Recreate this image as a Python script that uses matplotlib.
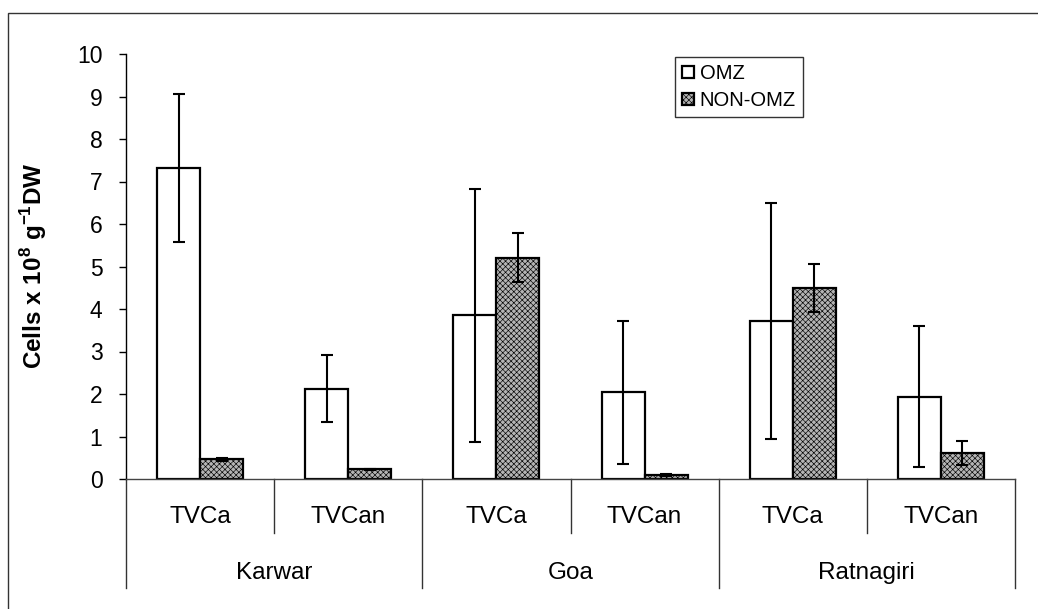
import matplotlib
matplotlib.use("Agg")
import matplotlib.pyplot as plt
import matplotlib.transforms as mtransforms
from matplotlib.patches import Rectangle
import numpy as np

plt.rcParams['font.family'] = ['Liberation Sans', 'DejaVu Sans']
plt.rcParams['mathtext.fontset'] = 'custom'
plt.rcParams['mathtext.rm'] = 'Liberation Sans'
plt.rcParams['mathtext.bf'] = 'Liberation Sans:bold'
plt.rcParams['hatch.linewidth'] = 0.45

# Data: cell counts (x 10^8 per g dry weight) with standard deviations
sites = ["Karwar", "Goa", "Ratnagiri"]
groups = ["TVCa", "TVCan"]
omz_mean = [7.32, 2.12, 3.85, 2.04, 3.72, 1.94]
omz_err = [1.74, 0.79, 2.97, 1.68, 2.78, 1.65]
non_omz_mean = [0.46, 0.23, 5.21, 0.09, 4.49, 0.61]
non_omz_err = [0.03, 0.01, 0.57, 0.03, 0.56, 0.29]
series_names = ["OMZ", "NON-OMZ"]
y_ticks = list(range(0, 11))

W, H = 1038, 609
fig = plt.figure(figsize=(W / 100, H / 100), dpi=100)
ax = fig.add_axes([126 / W, 1 - 479 / H, (1015 - 126) / W, (479 - 54) / H])

x = np.arange(len(omz_mean))
bw = 0.29
ekw = dict(ecolor="black", elinewidth=1.5, capsize=4.5, capthick=1.5)

ax.bar(x - bw / 2, omz_mean, bw, color="white", edgecolor="black",
       linewidth=1.6, label=series_names[0], zorder=2)
ax.bar(x + bw / 2, non_omz_mean, bw, color="#b4b4b4", edgecolor="black",
       linewidth=1.6, hatch="xxxxxx", label=series_names[1], zorder=2)
ax.errorbar(x - bw / 2, omz_mean, yerr=omz_err, fmt="none", zorder=3, **ekw)
ax.errorbar(x + bw / 2, non_omz_mean, yerr=non_omz_err, fmt="none", zorder=3, **ekw)

ax.set_xlim(-0.5, len(x) - 0.5)
ax.set_ylim(0, 10)
ax.set_yticks(y_ticks)
ax.tick_params(axis="y", direction="out", length=5, width=1, labelsize=16.5, pad=12)
ax.set_xticks([])
for s in ("top", "right"):
    ax.spines[s].set_visible(False)
ax.spines["left"].set_linewidth(1.0)
ax.spines["bottom"].set_linewidth(1.0)
ax.spines["bottom"].set_color("#444444")

ax.set_ylabel(r"Cells x 10$^{\mathbf{8}}$ g$^{\mathbf{-1}}$DW", fontsize=17.5,
              fontweight="bold")
ax.yaxis.set_label_coords((49 - 126) / (1015 - 126), (479 - 266) / (479 - 54))

# Two-level category axis below the plot
trans = mtransforms.blended_transform_factory(ax.transData, ax.transAxes)
y_grp, y_site = -0.089, -0.221
y_short, y_long = -0.127, -0.256
for i in range(len(x)):
    ax.text(i, y_grp, groups[i % 2], transform=trans, ha="center", va="center",
            fontsize=17.5)
for j, s in enumerate(sites):
    ax.text(2 * j + 0.5, y_site, s, transform=trans, ha="center", va="center",
            fontsize=17.5)
for k in range(len(x) + 1):
    xb = k - 0.5
    y_end = y_long if k % 2 == 0 else y_short
    ax.plot([xb, xb], [0, y_end], transform=trans, color="#333333", lw=1.0,
            clip_on=False)

leg = ax.legend(loc="upper left", bbox_to_anchor=(0.617, 0.993), frameon=True,
                fancybox=False, edgecolor="black", fontsize=14.5, handlelength=0.6,
                handleheight=0.6, handletextpad=0.3, borderpad=0.35,
                labelspacing=0.4, borderaxespad=0)
leg.get_frame().set_linewidth(1.0)

# Chart-area border
fig.patches.append(Rectangle((8 / W, -0.2), 1.2, 1.2 - 13 / H, transform=fig.transFigure,
                             fill=False, edgecolor="#333333", lw=1.0))

fig.savefig("out.png", dpi=100)
